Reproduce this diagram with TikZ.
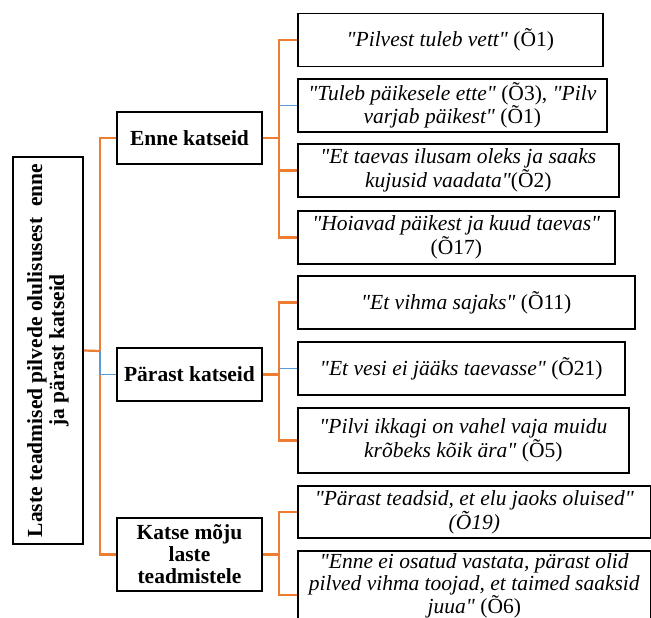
\documentclass[tikz,border=0pt]{standalone}
\usepackage{fontspec}
\setmainfont{Liberation Serif}
\definecolor{linkorange}{RGB}{237,125,49}
\definecolor{linkblue}{RGB}{91,155,213}
\newcommand\qt[1]{\textit{\textquotedbl#1\textquotedbl}}
\tikzset{
  topbox/.style={draw,line width=1.6pt,align=center,inner sep=0pt,
    font=\bfseries\fontsize{21.5}{22}\selectfont},
  quotebox/.style={draw,line width=1.6pt,anchor=west,align=center,inner sep=0pt,
    font=\fontsize{21.5}{22}\selectfont},
  olink/.style={draw=linkorange,line width=2.2pt},
  blink/.style={draw=linkblue,line width=1.2pt}
}

\begin{document}
\begin{tikzpicture}[x=1pt,y=-1pt]
\useasboundingbox (0,0) rectangle (651,618);
%
\node [topbox,rotate=90,minimum width=387pt,minimum height=70pt] at (48,350.5) (root) {Laste teadmised pilvede olulisusest\ \ enne\\ja pärast katseid};
%
   \node [topbox,minimum width=145pt,minimum height=52pt] at (189.5,138) (enne) {Enne katseid};
   \node [topbox,minimum width=145pt,minimum height=53pt] at (189.5,374.5) (parast) {Pärast katseid};
   \node [topbox,minimum width=145pt,minimum height=73pt] at (189.5,554.5) (moju) {Katse mõju\\laste\\teadmistele};
%
      \node [quotebox,minimum width=305pt,minimum height=53pt] at (297,40) (vett) {\qt{Pilvest tuleb vett} (Õ1)};
      \node [quotebox,minimum width=309pt,minimum height=53pt] at (297,105.5) (paike) {\qt{Tuleb päikesele ette} (Õ3), \textit{\textquotedbl Pilv}\\\textit{varjab päikest\textquotedbl} (Õ1)};
      \node [quotebox,minimum width=321pt,minimum height=53pt] at (297,170.5) (ilusam) {\textit{\textquotedbl Et taevas ilusam oleks ja saaks}\\\textit{kujusid vaadata\textquotedbl}(Õ2)};
      \node [quotebox,minimum width=317pt,minimum height=53pt] at (297,237.5) (hoiavad) {\qt{Hoiavad päikest ja kuud taevas}\\(Õ17)};
%
      \node [quotebox,minimum width=337pt,minimum height=53pt] at (297,302.5) (vihma) {\qt{Et vihma sajaks} (Õ11)};
      \node [quotebox,minimum width=327pt,minimum height=53pt] at (297,368.5) (vesi) {\qt{Et vesi ei jääks taevasse} (Õ21)};
      \node [quotebox,minimum width=331pt,minimum height=65pt] at (297,440.5) (krobeks) {\textit{\textquotedbl Pilvi ikkagi on vahel vaja muidu}\\\textit{krõbeks kõik ära\textquotedbl} (Õ5)};
%
      \node [quotebox,minimum width=353pt,minimum height=52pt] at (297,512) (elu) {\qt{Pärast teadsid, et elu jaoks oluised}\\\textit{(Õ19)}};
      \node [quotebox,minimum width=353pt,minimum height=70pt] at (297,586) (toojad) {\textit{\textquotedbl Enne ei osatud vastata, pärast olid}\\\textit{pilved vihma toojad, et taimed saaksid}\\\textit{juua\textquotedbl} (Õ6)};
%
\coordinate (t0) at (100,351);
\coordinate (e0) at (279,138);
\coordinate (p0) at (279,374.5);
\coordinate (m0) at (279,554.5);
%
\path[olink] (enne.west) -| (t0) |- (moju.west);
\path[olink] (root.south) -- (t0);
\path[blink] (t0) |- (parast.west);
%
\path[olink] (vett.west) -| (e0) |- (hoiavad.west);
\path[olink] (enne.east) -- (e0);
\path[olink] (ilusam.west -| e0) -- (ilusam.west);
\path[blink] (paike.west -| e0) -- (paike.west);
%
\path[olink] (vihma.west) -| (p0) |- (krobeks.west);
\path[olink] (parast.east) -- (p0);
\path[blink] (vesi.west -| p0) -- (vesi.west);
%
\path[olink] (elu.west) -| (m0) |- ([yshift=-9pt]toojad.west);
\path[olink] (moju.east) -- (m0);

\end{tikzpicture}
\end{document}
